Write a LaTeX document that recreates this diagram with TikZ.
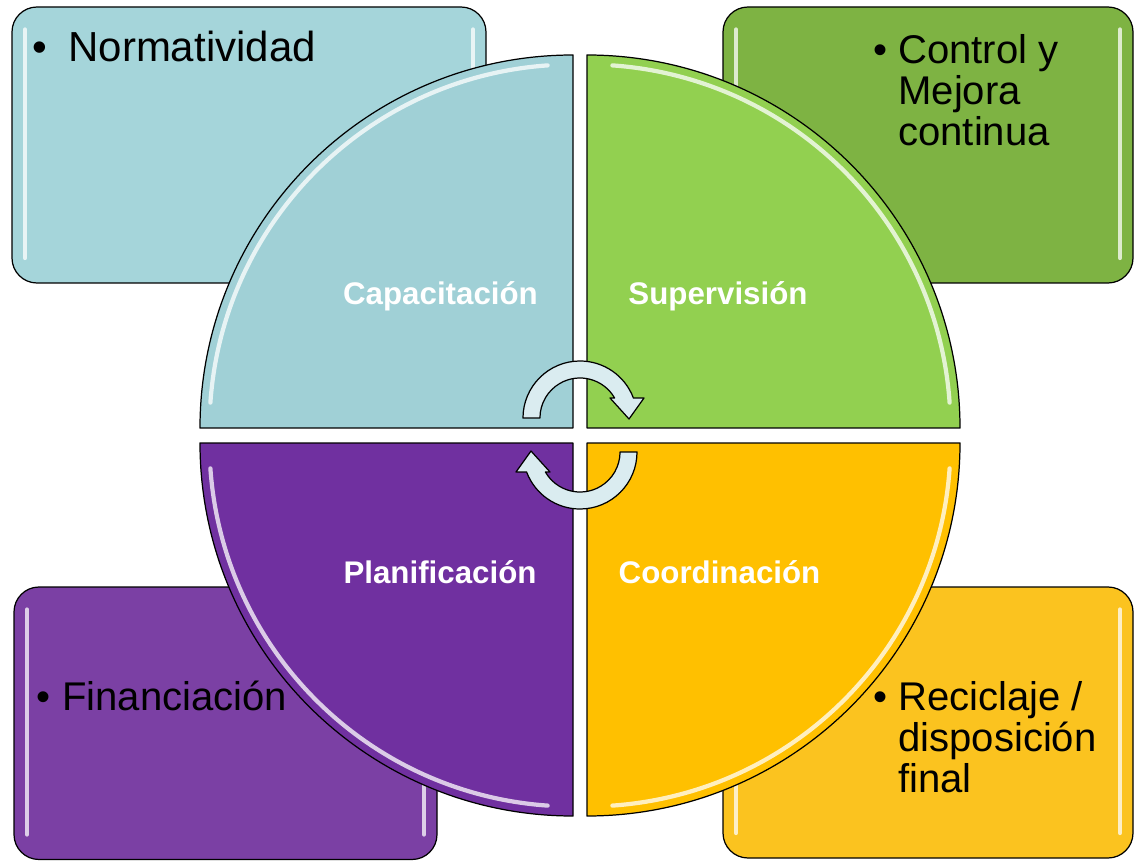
\documentclass[tikz,border=0pt]{standalone}
\usepackage{fontspec}
\setmainfont{Liberation Sans}
\definecolor{celesteC}{RGB}{165,213,218}
\definecolor{celeste}{RGB}{160,208,214}
\definecolor{verdeC}{RGB}{126,179,67}
\definecolor{verde}{RGB}{146,208,80}
\definecolor{moradoC}{RGB}{123,64,164}
\definecolor{morado}{RGB}{112,48,160}
\definecolor{amarilloC}{RGB}{251,195,31}
\definecolor{amarillo}{RGB}{255,192,0}
\definecolor{flechaazul}{RGB}{218,236,240}
\begin{document}
\begin{tikzpicture}[line join=round, line cap=round]
	\tikzset{caja/.style={draw=black, line width=0.7pt, rounded corners=0.5cm},
		brillo/.style={white, line width=2.4pt, opacity=0.75},
		cuarto/.style={draw=black, line width=0.7pt},
		etiqueta/.style={font=\fontsize{17.8}{20}\selectfont\bfseries, text=white, inner sep=0pt, anchor=base},
		texto/.style={font=\fontsize{22.8}{23.3}\selectfont, align=left, inner sep=0pt},
		flecha/.style={draw=black, line width=0.7pt, fill=flechaazul}}
	\useasboundingbox (0,0) rectangle (22.68,17.22);
	% cajas de fondo
	\foreach \xa/\ya/\xb/\yb/\col in {0.24/11.56/9.72/17.08/celesteC, 14.46/11.56/22.66/17.08/verdeC, 0.28/0.03/8.74/5.48/moradoC, 14.46/0.06/22.66/5.48/amarilloC}{
		\draw[caja, fill=\col] (\xa,\ya) rectangle (\xb,\yb);
		\draw[brillo] (\xa+0.26,\ya+0.5) -- (\xa+0.26,\yb-0.45);
		\draw[brillo] (\xb-0.26,\ya+0.5) -- (\xb-0.26,\yb-0.45);
	}
	\node[texto, anchor=base west, font=\fontsize{23.9}{26}\selectfont] (normatividad) at (1.36,15.98) {\llap{\textbullet\hspace{0.42cm}}Normatividad};
	\node[texto, anchor=north west] (control) at (17.96,16.53) {\llap{\textbullet\hspace{0.22cm}}Control y\\Mejora\\continua};
	\node[texto, anchor=base west] (financiacion) at (1.24,3.02) {\llap{\textbullet\hspace{0.24cm}}Financiación};
	\node[texto, anchor=north west] (reciclaje) at (17.96,3.59) {\llap{\textbullet\hspace{0.22cm}}Reciclaje /\\disposición\\final};
	% cuadrantes
	\foreach \cx/\cy/\a/\col in {11.46/8.66/90/celeste, 11.74/8.66/0/verde, 11.74/8.36/-90/amarillo, 11.46/8.36/180/morado}{
		\draw[cuarto, fill=\col] (\cx,\cy) -- ++(\a:7.46) arc[start angle=\a, end angle=\a+90, radius=7.46] -- cycle;
		\draw[brillo] (\cx,\cy) ++(\a+4:7.27) arc[start angle=\a+4, end angle=\a+86, radius=7.27];
	}
	\node[etiqueta] (capacitacion) at (8.81,11.12) {Capacitación};
	\node[etiqueta] (supervision) at (14.36,11.12) {Supervisión};
	\node[etiqueta] (planificacion) at (8.80,5.56) {Planificación};
	\node[etiqueta] (coordinacion) at (14.39,5.56) {Coordinación};
	% flechas del ciclo
	\foreach \py/\rot in {8.86/0, 8.18/180}
	\draw[flecha, shift={(11.6,\py)}, rotate=\rot, x=0.02cm, y=0.02cm] (-57,0) arc[start angle=180, end angle=20.5, radius=57] -- (64,20) -- (49,-1) -- (30,20) -- (34.6,20) arc[start angle=30, end angle=180, radius=40] -- cycle;
\end{tikzpicture}
\end{document}
